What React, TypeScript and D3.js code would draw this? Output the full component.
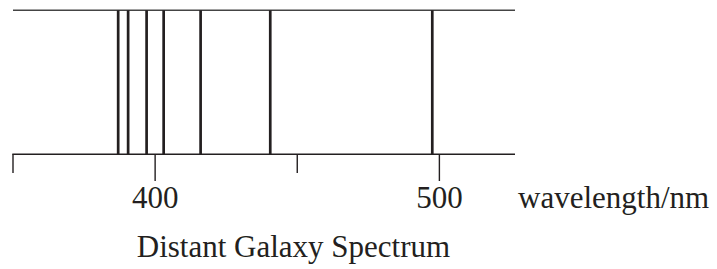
import React from "react";
import * as d3 from "d3";

const spectralLines: number[] = [387, 390.5, 397, 403, 416, 440.5, 497.5];
const majorTicks: number[] = [400, 500];
const minorTicks: number[] = [350, 450];
const tickLabels: string[] = ["400", "500"];
const axisLabel = "wavelength/nm";
const title = "Distant Galaxy Spectrum";

const W = 717;
const H = 269;
const ink = "#231f20";

export default function App() {
  const x = d3.scaleLinear().domain([350, 526.6]).range([13, 515]);
  const yTop = 10.3;
  const yAxis = 154.3;
  const textStyle: React.CSSProperties = {
    fontFamily: "Liberation Serif, Times New Roman, serif",
    fontSize: "31px",
  };
  return (
    <svg
      width={W}
      height={H}
      style={{ position: "absolute", left: 0, top: 0, display: "block", background: "#fff" }}
    >
      <line x1={x(350)} x2={x(526.6)} y1={yTop} y2={yTop} stroke="#444" strokeWidth={1.6} />
      <line x1={x(350) - 0.7} x2={x(526.6)} y1={yAxis} y2={yAxis} stroke={ink} strokeWidth={1.6} />
      {spectralLines.map((v, i) => (
        <line key={"s" + i} x1={x(v)} x2={x(v)} y1={yTop} y2={yAxis} stroke={ink} strokeWidth={2.7} />
      ))}
      {majorTicks.map((v, i) => (
        <line key={"M" + i} x1={x(v)} x2={x(v)} y1={yAxis} y2={181} stroke={ink} strokeWidth={1.4} />
      ))}
      {minorTicks.map((v, i) => (
        <line key={"m" + i} x1={x(v)} x2={x(v)} y1={yAxis} y2={173} stroke={ink} strokeWidth={1.4} />
      ))}
      {majorTicks.map((v, i) => (
        <text key={"t" + i} x={x(v)} y={208} textAnchor="middle" style={textStyle} fill={ink}>
          {tickLabels[i]}
        </text>
      ))}
      <text x={518} y={208} style={textStyle} fill={ink}>
        {axisLabel}
      </text>
      <text x={293.5} y={257} textAnchor="middle" style={textStyle} fill={ink}>
        {title}
      </text>
    </svg>
  );
}
